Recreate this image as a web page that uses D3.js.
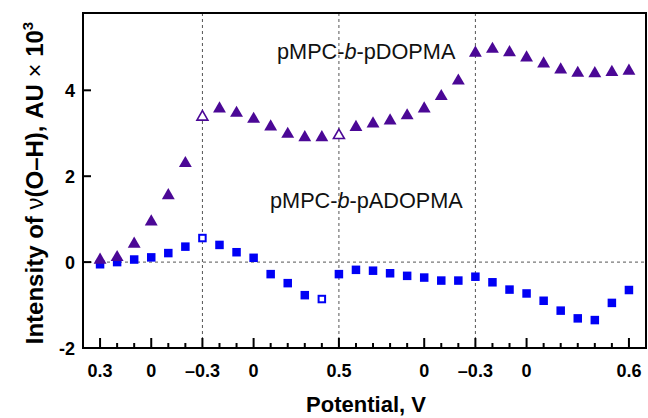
<!DOCTYPE html>
<html><head><meta charset="utf-8">
<script src="https://cdn.jsdelivr.net/npm/d3@7"></script>
<style>body{margin:0;background:#fff;} svg{display:block;font-family:"Liberation Sans",Arial,sans-serif;}</style>
</head><body><svg id="c" width="648" height="418"></svg>
<script>
// potentials of each scan step (index along x)
const potentials = [0.3,0.2,0.1,0,-0.1,-0.2,-0.3,-0.2,-0.1,0,0.1,0.2,0.3,0.4,0.5,0.4,0.3,0.2,0.1,0,-0.1,-0.2,-0.3,-0.2,-0.1,0,0.1,0.2,0.3,0.4,0.5,0.6];
const majorIdx = [0,3,6,9,14,19,22,25,31];
const majorLabels = ["0.3","0","\u20130.3","0","0.5","0","\u20130.3","0","0.6"];
const vLines = [6,14,22];
const dopma = [0.05,0.11,0.42,0.94,1.55,2.3,3.38,3.57,3.47,3.33,3.15,2.98,2.9,2.9,2.95,3.14,3.22,3.29,3.41,3.57,3.86,4.22,4.87,4.96,4.88,4.76,4.62,4.48,4.4,4.39,4.42,4.45];
const adopma = [-0.05,0.0,0.06,0.11,0.21,0.36,0.56,0.40,0.23,0.10,-0.28,-0.49,-0.77,-0.86,-0.28,-0.18,-0.20,-0.26,-0.32,-0.36,-0.43,-0.43,-0.34,-0.47,-0.64,-0.73,-0.90,-1.13,-1.31,-1.35,-0.95,-0.65];
const openIdxDopma = [6,14];
const openIdxAdopma = [6,13];
const yTicks = [-2,0,2,4];

const svg = d3.select("#c");
const L=83,R=646,T=13,B=348;
const x = d3.scaleLinear().domain([-1,32]).range([L,R]);
const y = d3.scaleLinear().domain([-2,5.8]).range([B,T]);
const purple="#4b0896", blue="#0000f5";

// dashed guides
svg.append("line").attr("x1",L).attr("x2",R).attr("y1",y(0)).attr("y2",y(0))
  .attr("stroke","#555").attr("stroke-width",1).attr("stroke-dasharray","3,3");
svg.selectAll(".vl").data(vLines).enter().append("line")
  .attr("x1",d=>x(d)).attr("x2",d=>x(d)).attr("y1",T).attr("y2",B)
  .attr("stroke","#555").attr("stroke-width",1).attr("stroke-dasharray","3,3");

// x axis ticks (inward)
const allIdx = d3.range(potentials.length);
svg.selectAll(".xt").data(allIdx).enter().append("line")
  .attr("x1",d=>x(d)).attr("x2",d=>x(d)).attr("y1",B)
  .attr("y2",d=> majorIdx.includes(d)? B-10 : B-5)
  .attr("stroke","#000").attr("stroke-width",2);
svg.selectAll(".xl").data(majorIdx).enter().append("text")
  .attr("x",d=>x(d)).attr("y",B+29).attr("text-anchor","middle")
  .attr("font-size",18).attr("font-weight","bold").text((d,i)=>majorLabels[i]);

// y ticks
svg.selectAll(".yt").data(yTicks).enter().append("line")
  .attr("x1",L).attr("x2",L+8).attr("y1",d=>y(d)).attr("y2",d=>y(d))
  .attr("stroke","#000").attr("stroke-width",2);
svg.selectAll(".yl").data(yTicks).enter().append("text")
  .attr("x",75).attr("y",d=>y(d)+6.5).attr("text-anchor","end")
  .attr("font-size",18).attr("font-weight","bold").text(d=>d);

// frame
svg.append("rect").attr("x",L).attr("y",T).attr("width",R-L).attr("height",B-T)
  .attr("fill","none").attr("stroke","#000").attr("stroke-width",2);

// squares
const sq=8.5;
svg.selectAll(".sq").data(adopma).enter().append("rect")
  .each(function(d,i){
    const open=openIdxAdopma.includes(i), s=open?sq-2:sq;
    d3.select(this).attr("x",x(i)-s/2).attr("y",y(d)-s/2).attr("width",s).attr("height",s)
      .attr("fill",open?"#fff":blue).attr("stroke",blue).attr("stroke-width",open?2:0);
  });

// triangles
svg.selectAll(".tr").data(dopma).enter().append("path")
  .attr("d",(d,i)=> d3.symbol().type(d3.symbolTriangle).size(openIdxDopma.includes(i)?52:72)())
  .attr("transform",(d,i)=>`translate(${x(i)},${y(d)})`)
  .attr("fill",(d,i)=>openIdxDopma.includes(i)?"#fff":purple)
  .attr("stroke",purple).attr("stroke-width",(d,i)=>openIdxDopma.includes(i)?1.6:0);

// series labels
function label(xp,yp,pre,it,post){
  const t=svg.append("text").attr("x",xp).attr("y",yp).attr("font-size",21.7).attr("fill","#111");
  t.append("tspan").text(pre);
  t.append("tspan").attr("font-style","italic").text(it);
  t.append("tspan").text(post);
}
label(277,59,"pMPC-","b","-pDOPMA");
label(270,208,"pMPC-","b","-pADOPMA");

// axis titles
svg.append("text").attr("x",366).attr("y",412).attr("text-anchor","middle")
  .attr("font-size",22).attr("font-weight","bold").text("Potential, V");
const yt = svg.append("text").attr("transform","translate(43,183) rotate(-90)")
  .attr("text-anchor","middle").attr("font-size",24).attr("font-weight","bold");
yt.append("tspan").text("Intensity of ");
yt.append("tspan").attr("font-weight","normal").text("\u03BD");
yt.append("tspan").text("(O\u2013H), AU ");
yt.append("tspan").attr("font-weight","normal").text("\u00D7");
yt.append("tspan").text(" 10");
yt.append("tspan").attr("font-size",15).attr("dy",-10).text("3");
</script></body></html>
